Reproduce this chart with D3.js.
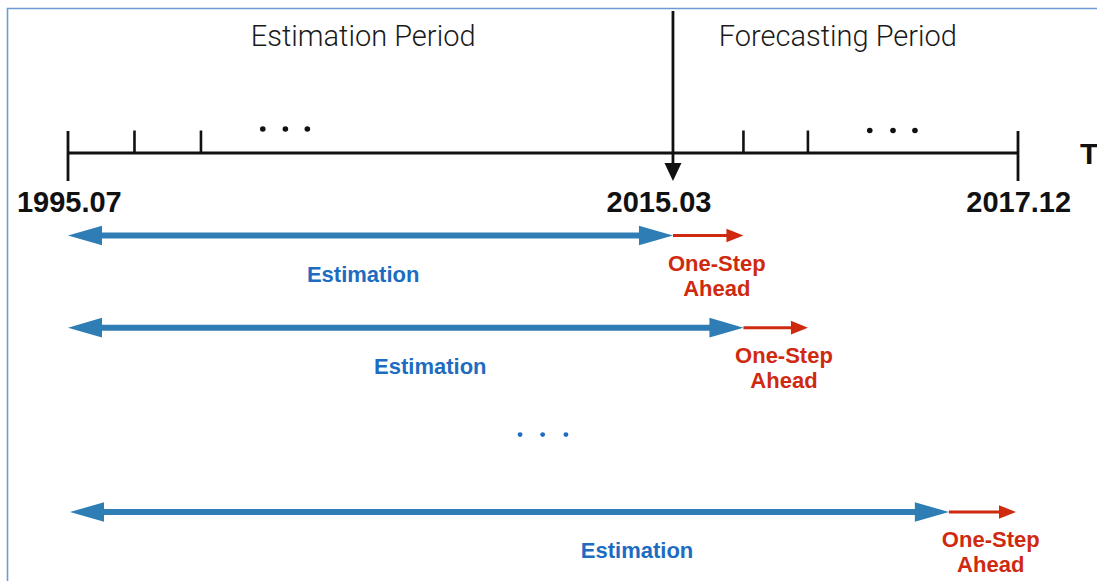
<!DOCTYPE html>
<html>
<head>
<meta charset="utf-8">
<script src="https://cdn.jsdelivr.net/npm/d3@7"></script>
<style>
  html, body { margin: 0; padding: 0; background: #fff; overflow: hidden; }
  svg { display: block; }
</style>
</head>
<body>
<script>
// ---- data (schematic time units along the axis) ----
const periodTitles = ["Estimation Period", "Forecasting Period"];
const periodTitlePos = [4.44, 11.58];

const axisStart = 0, axisEnd = 14.29, splitPoint = 9.1;
const shortTicks = [1, 2, 10.16, 11.13];
const longTicks = [0, 14.29];
const axisDots = [2.93, 3.27, 3.6, 12.06, 12.41, 12.74];

const tickLabels = ["1995.07", "2015.03", "2017.12"];
const tickLabelPos = [0.02, 8.89, 14.3];

const rowSlots = [0, 1, 3];
const windowStart = [0, 0, 0.03];
const windowEnd = [9.1, 10.16, 13.25];
const forecastEnd = [10.16, 11.13, 14.26];
const estLabelPos = [4.44, 5.45, 8.56];
const stepLabelPos = [9.76, 10.77, 13.88];
const rowDots = [6.8, 7.14, 7.49];
const rowDotSlot = 2.16;

const estLabel = "Estimation";
const stepLabel = ["One-Step", "Ahead"];
const axisName = "T";

// ---- drawing ----
const W = 1097, H = 581;
const svg = d3.select("body").append("svg").attr("width", W).attr("height", H);

const x = d3.scaleLinear().domain([axisStart, axisEnd]).range([68, 1018]);
const y = d3.scaleLinear().domain([0, 3]).range([235.5, 512]);

const BLUE = "#2e7db5", BLUE_TXT = "#1e6cc2", RED = "#cf2a10", INK = "#111";
const axisY = 153;

// frame
svg.append("path")
  .attr("d", `M7.5,${H} L7.5,8.5 L${W},8.5`)
  .attr("fill", "none").attr("stroke", "#6f9bd4").attr("stroke-width", 1.6);

// period titles
svg.selectAll("text.title").data(periodTitles).join("text")
  .attr("class", "title")
  .attr("x", (d, i) => x(periodTitlePos[i]))
  .attr("y", 46)
  .attr("text-anchor", "middle")
  .attr("font-family", "Roboto, 'Liberation Sans', sans-serif")
  .attr("font-weight", 300)
  .attr("font-size", 29)
  .attr("fill", "#1a1a1a")
  .text(d => d);

// timeline
svg.append("line")
  .attr("x1", x(axisStart)).attr("x2", x(axisEnd))
  .attr("y1", axisY).attr("y2", axisY)
  .attr("stroke", INK).attr("stroke-width", 3);

svg.selectAll("line.st").data(shortTicks).join("line")
  .attr("class", "st")
  .attr("x1", d => x(d)).attr("x2", d => x(d))
  .attr("y1", 130.5).attr("y2", axisY)
  .attr("stroke", INK).attr("stroke-width", 2.6);

svg.selectAll("line.lt").data(longTicks).join("line")
  .attr("class", "lt")
  .attr("x1", d => x(d)).attr("x2", d => x(d))
  .attr("y1", 131).attr("y2", 181)
  .attr("stroke", INK).attr("stroke-width", 2.8);

svg.selectAll("circle.ad").data(axisDots).join("circle")
  .attr("class", "ad")
  .attr("cx", d => x(d)).attr("cy", (d, i) => i < 3 ? 129 : 130.5)
  .attr("r", 2.8).attr("fill", INK);

// split marker (vertical line with arrow)
const sx = x(splitPoint);
svg.append("line")
  .attr("x1", sx).attr("x2", sx).attr("y1", 11).attr("y2", 166)
  .attr("stroke", INK).attr("stroke-width", 2.8);
svg.append("path")
  .attr("d", `M${sx - 8.5},163 L${sx + 8.5},163 L${sx},181 Z`)
  .attr("fill", INK);

// tick labels
svg.selectAll("text.tl").data(tickLabels).join("text")
  .attr("class", "tl")
  .attr("x", (d, i) => x(tickLabelPos[i]))
  .attr("y", 212)
  .attr("text-anchor", "middle")
  .attr("font-family", "'Liberation Sans', Arial, sans-serif")
  .attr("font-weight", "bold")
  .attr("font-size", 29)
  .attr("fill", INK)
  .text(d => d);

// axis name
svg.append("text")
  .attr("x", 1080).attr("y", 163.5)
  .attr("font-family", "'Liberation Sans', Arial, sans-serif")
  .attr("font-weight", "bold").attr("font-size", 30)
  .attr("fill", INK).text(axisName);

// rows
const rows = rowSlots.map((s, i) => ({
  s, a: windowStart[i], b: windowEnd[i], c: forecastEnd[i],
  el: estLabelPos[i], sl: stepLabelPos[i]
}));

const g = svg.selectAll("g.row").data(rows).join("g").attr("class", "row");

// blue double-headed arrow
g.append("path")
  .attr("d", d => {
    const yy = y(d.s), x0 = x(d.a), x1 = x(d.b);
    const hl = 34, hh = 9.8, sh = 3;
    return `M${x0},${yy} L${x0 + hl},${yy - hh} L${x0 + hl},${yy - sh} L${x1 - hl},${yy - sh}` +
      ` L${x1 - hl},${yy - hh} L${x1},${yy} L${x1 - hl},${yy + hh} L${x1 - hl},${yy + sh}` +
      ` L${x0 + hl},${yy + sh} L${x0 + hl},${yy + hh} Z`;
  })
  .attr("fill", BLUE);

// red single arrow
g.append("line")
  .attr("x1", d => x(d.b)).attr("x2", d => x(d.c) - 14)
  .attr("y1", d => y(d.s)).attr("y2", d => y(d.s))
  .attr("stroke", RED).attr("stroke-width", 3);
g.append("path")
  .attr("d", d => {
    const yy = y(d.s), xe = x(d.c);
    return `M${xe - 17},${yy - 6.8} L${xe},${yy} L${xe - 17},${yy + 6.8} Z`;
  })
  .attr("fill", RED);

// labels
g.append("text")
  .attr("x", d => x(d.el)).attr("y", d => y(d.s) + 46)
  .attr("text-anchor", "middle")
  .attr("font-family", "'Liberation Sans', Arial, sans-serif")
  .attr("font-weight", "bold").attr("font-size", 22)
  .attr("fill", BLUE_TXT).text(estLabel);

g.each(function (d) {
  const t = d3.select(this).append("text")
    .attr("text-anchor", "middle")
    .attr("font-family", "'Liberation Sans', Arial, sans-serif")
    .attr("font-weight", "bold").attr("font-size", 22)
    .attr("fill", RED);
  stepLabel.forEach((s, k) => {
    t.append("tspan").attr("x", x(d.sl)).attr("y", y(d.s) + 35 + k * 25).text(s);
  });
});

// ellipsis between rows
svg.selectAll("circle.rd").data(rowDots).join("circle")
  .attr("class", "rd")
  .attr("cx", d => x(d)).attr("cy", y(rowDotSlot))
  .attr("r", 2.4).attr("fill", BLUE_TXT);
</script>
</body>
</html>
